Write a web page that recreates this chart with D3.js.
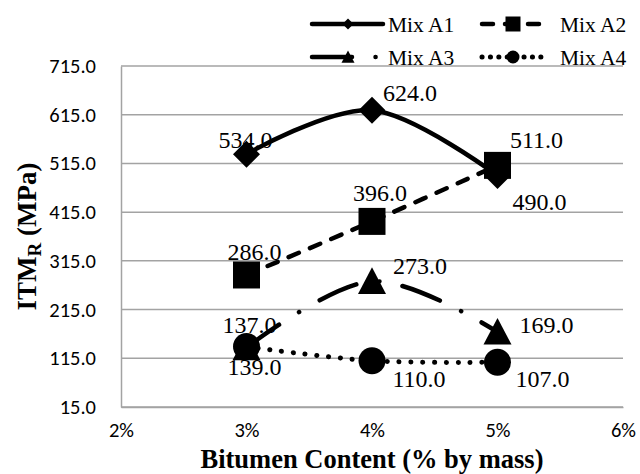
<!DOCTYPE html>
<html>
<head>
<meta charset="utf-8">
<script src="https://cdn.jsdelivr.net/npm/d3@7"></script>
<style>
  body { margin: 0; background: #fff; }
  svg { display: block; }
</style>
</head>
<body>
<svg id="chart" width="640" height="474"></svg>
<script>
// ---- data ----
const binderContents = [0.03, 0.04, 0.05];
const seriesNames = ["Mix A1", "Mix A2", "Mix A3", "Mix A4"];
const mixA1 = [534, 624, 490];
const mixA2 = [286, 396, 511];
const mixA3 = [137, 273, 169];
const mixA4 = [139, 110, 107];
const yTickValues = [15, 115, 215, 315, 415, 515, 615, 715];
const xTickValues = [0.02, 0.03, 0.04, 0.05, 0.06];

// ---- layout ----
const W = 640, H = 474;
const plot = { left: 121, right: 623, top: 66, bottom: 407 };
const serif = "'Liberation Serif', 'Times New Roman', serif";
const tickFont = "Carlito, Calibri, Lato, 'Open Sans', sans-serif";
const gridColor = "#a3a3a3";

const svg = d3.select("#chart");

const x = d3.scaleLinear().domain([0.02, 0.06]).range([plot.left, plot.right]);
const y = d3.scaleLinear().domain([15, 715]).range([plot.bottom, plot.top]);

// horizontal gridlines
svg.append("g")
  .selectAll("line")
  .data(yTickValues)
  .join("line")
  .attr("x1", plot.left).attr("x2", plot.right)
  .attr("y1", d => y(d)).attr("y2", d => y(d))
  .attr("stroke", gridColor).attr("stroke-width", 1.5);

// y axis
const yAxis = svg.append("g")
  .attr("transform", `translate(${plot.left},0)`)
  .call(d3.axisLeft(y).tickValues(yTickValues).tickFormat(d3.format(".1f")).tickSize(0).tickPadding(25));
yAxis.select(".domain").attr("stroke", gridColor).attr("stroke-width", 1.5);
yAxis.selectAll("text")
  .attr("font-family", tickFont).attr("font-size", 20.5).attr("fill", "#000");

// x axis
const xAxis = svg.append("g")
  .attr("transform", `translate(0,${plot.bottom})`)
  .call(d3.axisBottom(x).tickValues(xTickValues).tickFormat(d3.format(".0%")).tickSize(0).tickPadding(15));
xAxis.select(".domain").attr("stroke", gridColor).attr("stroke-width", 1.5);
xAxis.selectAll("text")
  .attr("font-family", tickFont).attr("font-size", 20.5).attr("fill", "#000");

// axis titles
svg.append("text")
  .attr("x", (plot.left + plot.right) / 2).attr("y", 468)
  .attr("text-anchor", "middle")
  .attr("font-family", serif).attr("font-weight", "bold").attr("font-size", 26.5)
  .text("Bitumen Content (% by mass)");

const yTitle = svg.append("text")
  .attr("transform", `translate(36,${(plot.top + plot.bottom) / 2}) rotate(-90)`)
  .attr("text-anchor", "middle")
  .attr("font-family", serif).attr("font-weight", "bold").attr("font-size", 27);
yTitle.append("tspan").text("ITM");
yTitle.append("tspan").attr("font-size", 19).attr("dy", 5).text("R");
yTitle.append("tspan").attr("dy", -5).text(" (MPa)");

// ---- marker shapes ----
function markerPath(type, r) {
  const p = d3.path();
  if (type === "diamond") {
    p.moveTo(0, -r); p.lineTo(r, 0); p.lineTo(0, r); p.lineTo(-r, 0); p.closePath();
  } else if (type === "square") {
    p.rect(-r, -r, 2 * r, 2 * r);
  } else if (type === "triangle") {
    p.moveTo(0, -r); p.lineTo(r, r * 0.9); p.lineTo(-r, r * 0.9); p.closePath();
  } else {
    p.arc(0, 0, r, 0, 2 * Math.PI);
  }
  return p.toString();
}

// ---- series ----
const series = [
  { name: seriesNames[0], values: mixA1, marker: "diamond",  r: 13.5, dash: null,               width: 4.5, legendR: 5.5, legendDash: null },
  { name: seriesNames[1], values: mixA2, marker: "square",   r: 13.5, dash: "11 12",            width: 4.5, legendR: 7.5, legendDash: "11 12" },
  { name: seriesNames[2], values: mixA3, marker: "triangle", r: 14,   dash: "40 23.5 0.1 23.5", width: 4.5, legendR: 6.5, legendDash: "40 23.5 0.1 23.5" },
  { name: seriesNames[3], values: mixA4, marker: "circle",   r: 13.5, dash: "0.1 11.7",         width: 5,   legendR: 6.5, legendDash: "0.1 8.3" }
];

// label offsets (label centre x, baseline y) relative to each point
const labelOffsets = [
  [[-1, -6], [38, -9], [42, 34]],
  [[8, -15], [8, -20], [39, -17]],
  [[3, -15], [48, -7], [49, 1]],
  [[8, 28], [47, 26], [45, 25]]
];

const line = d3.line()
  .x((d, i) => x(binderContents[i]))
  .y(d => y(d))
  .curve(d3.curveCatmullRom.alpha(0));

series.forEach(s => {
  const g = svg.append("g");
  g.append("path")
    .datum(s.values)
    .attr("d", line)
    .attr("fill", "none")
    .attr("stroke", "#000")
    .attr("stroke-width", s.width)
    .attr("stroke-linecap", "round")
    .attr("stroke-linejoin", "round")
    .attr("stroke-dasharray", s.dash);
  g.selectAll("path.marker")
    .data(s.values)
    .join("path")
    .attr("class", "marker")
    .attr("transform", (d, i) => `translate(${x(binderContents[i])},${y(d)})`)
    .attr("d", markerPath(s.marker, s.r))
    .attr("fill", "#000");
});

// data labels
series.forEach((s, si) => {
  svg.append("g")
    .selectAll("text")
    .data(s.values)
    .join("text")
    .attr("x", (d, i) => x(binderContents[i]) + labelOffsets[si][i][0])
    .attr("y", (d, i) => y(d) + labelOffsets[si][i][1])
    .attr("text-anchor", "middle")
    .attr("font-family", serif).attr("font-size", 24)
    .text(d => d3.format(".1f")(d));
});

// ---- legend ----
const legendSlots = [
  { x0: 312, x1: 383, mx: 348, tx: 388, y: 24 },
  { x0: 482, x1: 545, mx: 513, tx: 560, y: 24 },
  { x0: 312, x1: 383, mx: 348, tx: 388, y: 57 },
  { x0: 482, x1: 545, mx: 513, tx: 560, y: 57 }
];

series.forEach((s, i) => {
  const L = legendSlots[i];
  const g = svg.append("g");
  g.append("line")
    .attr("x1", L.x0).attr("x2", L.x1).attr("y1", L.y).attr("y2", L.y)
    .attr("stroke", "#000").attr("stroke-width", s.width)
    .attr("stroke-linecap", "round")
    .attr("stroke-dasharray", s.legendDash);
  g.append("path")
    .attr("transform", `translate(${L.mx},${L.y})`)
    .attr("d", markerPath(s.marker, s.legendR))
    .attr("fill", "#000");
  g.append("text")
    .attr("x", L.tx).attr("y", L.y + 7.5)
    .attr("font-family", serif).attr("font-size", 21.5)
    .text(s.name);
});
</script>
</body>
</html>
